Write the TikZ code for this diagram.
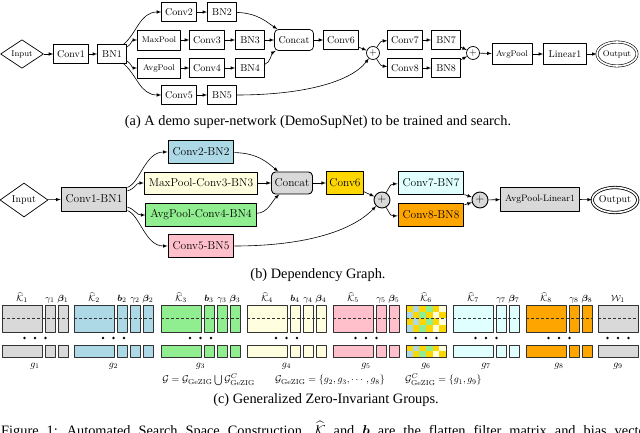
\documentclass[tikz,border=0pt]{standalone}
\usepackage{amsmath, amssymb}
\usepackage{bm}
\usepackage{fontspec}
\newfontfamily\capfont{Liberation Serif}
\usepackage{tikz}
\usetikzlibrary{positioning,shapes.geometric}
\definecolor{depgray}{HTML}{D9D9D9}
\definecolor{depblue}{HTML}{ADD8E6}
\definecolor{depgreen}{HTML}{90EE90}
\definecolor{depcream}{HTML}{FFFFE0}
\definecolor{deppink}{HTML}{FFC0CB}
\definecolor{depgold}{HTML}{FFD700}
\definecolor{depcyan}{HTML}{E0FFFF}
\definecolor{deporange}{HTML}{FFA500}

\begin{document}
\begin{tikzpicture}[>=latex,line join=bevel,
  opbox/.style={draw,line width=0.7bp,inner xsep=3.5bp,inner ysep=0bp,minimum height=19bp,minimum width=29bp,font=\fontsize{10}{12}\selectfont},
  opsmall/.style={opbox,font=\fontsize{8.3}{10}\selectfont},
  depbox/.style={draw,line width=0.9bp,inner xsep=4.5bp,inner ysep=0bp,minimum height=23bp,font=\fontsize{11.5}{13}\selectfont},
  addnode/.style={draw,circle,inner sep=0bp,line width=0.7bp},
  innode/.style={draw,diamond,inner sep=0bp,line width=0.7bp},
  outnode/.style={draw,ellipse,double,double distance=1.6bp,inner sep=0bp,line width=0.6bp},
  catnode/.style={rounded corners=4bp},
  capnode/.style={font=\capfont\fontsize{14.4}{17}\selectfont},
  link/.style={black,->,line width=0.6bp},
  grp/.style={draw=black!80,line width=0.9bp},
  midline/.style={black!80,line width=0.6bp,dash pattern=on 3bp off 2bp},
  labnode/.style={anchor=base,inner sep=0bp,font=\fontsize{9.5}{11}\selectfont},
]
\useasboundingbox (0bp,0bp) rectangle (640bp,433bp);
%% (a) super-network
\node (node_input_a) at (22bp,379bp) [innode,minimum width=43bp,minimum height=28bp,font=\fontsize{8.3}{10}\selectfont] {Input};
  \node (node_conv1) at (71bp,379bp) [opbox] {Conv1};
  \node (node_bn1) at (112bp,379bp) [opbox] {BN1};
  \node (node_conv2) at (179bp,421bp) [opbox] {Conv2};
  \node (node_bn2) at (222bp,421bp) [opbox] {BN2};
  \node (node_maxpool) at (159bp,393bp) [opsmall,minimum width=43bp,minimum height=20bp] {MaxPool};
  \node (node_conv3) at (207bp,393bp) [opbox] {Conv3};
  \node (node_bn3) at (250bp,393bp) [opbox] {BN3};
  \node (node_avgpool) at (159bp,365bp) [opsmall,minimum width=43bp,minimum height=20bp] {AvgPool};
  \node (node_conv4) at (207bp,365bp) [opbox] {Conv4};
  \node (node_bn4) at (250bp,365bp) [opbox] {BN4};
  \node (node_conv5) at (179bp,338bp) [opbox] {Conv5};
  \node (node_bn5) at (222bp,338bp) [opbox] {BN5};
  \node (node_concat) at (294bp,393bp) [opbox,catnode,minimum width=39bp,minimum height=21bp] {Concat};
  \node (node_conv6) at (341bp,393bp) [opbox] {Conv6};
  \node (node_add1) at (373bp,380bp) [addnode,minimum size=13bp] {$+$};
  \node (node_conv7) at (405bp,393bp) [opbox] {Conv7};
  \node (node_bn7) at (446bp,393bp) [opbox] {BN7};
  \node (node_conv8) at (405bp,365bp) [opbox] {Conv8};
  \node (node_bn8) at (446bp,365bp) [opbox] {BN8};
  \node (node_add2) at (473bp,380bp) [addnode,minimum size=13bp] {$+$};
  \node (node_pool) at (512bp,379bp) [opsmall,minimum width=40bp,minimum height=21bp] {AvgPool};
  \node (node_linear1) at (565bp,379bp) [opbox,minimum width=43bp,minimum height=21bp] {Linear1};
  \node (node_output_a) at (617bp,379bp) [outnode,minimum width=38bp,minimum height=24bp,font=\fontsize{8.3}{10}\selectfont] {Output};
  \draw [link] (node_input_a) -- (node_conv1);
  \draw [link] (node_conv1) -- (node_bn1);
  \draw [link] (node_bn1) .. controls (137bp,400bp) and (140bp,421bp) .. (node_conv2);
  \draw [link] (node_bn1) .. controls (131bp,388bp) and (132bp,393bp) .. (node_maxpool);
  \draw [link] (node_bn1) .. controls (131bp,370bp) and (132bp,365bp) .. (node_avgpool);
  \draw [link] (node_bn1) .. controls (137bp,358bp) and (140bp,338bp) .. (node_conv5);
  \draw [link] (node_conv2) -- (node_bn2);
  \draw [link] (node_maxpool) -- (node_conv3);
  \draw [link] (node_conv3) -- (node_bn3);
  \draw [link] (node_avgpool) -- (node_conv4);
  \draw [link] (node_conv4) -- (node_bn4);
  \draw [link] (node_conv5) -- (node_bn5);
  \draw [link] (node_bn2) .. controls (258bp,420bp) and (268bp,410bp) .. (node_concat);
  \draw [link] (node_bn3) -- (node_concat);
  \draw [link] (node_bn4) .. controls (270bp,370bp) and (272bp,380bp) .. (node_concat);
  \draw [link] (node_concat) -- (node_conv6);
  \draw [link] (node_conv6) -- (node_add1);
  \draw [link] (node_bn5) .. controls (300bp,338bp) and (350bp,350bp) .. (node_add1);
  \draw [link] (node_add1) .. controls (381bp,392bp) .. (node_conv7);
  \draw [link] (node_add1) .. controls (381bp,367bp) .. (node_conv8);
  \draw [link] (node_conv7) -- (node_bn7);
  \draw [link] (node_conv8) -- (node_bn8);
  \draw [link] (node_bn7) -- (node_add2);
  \draw [link] (node_bn8) -- (node_add2);
  \draw [link] (node_add2) -- (node_pool);
  \draw [link] (node_pool) -- (node_linear1);
  \draw [link] (node_linear1) -- (node_output_a);
\node (node_cap_a) at (318bp,311bp) [capnode] {(a) A demo super-network (DemoSupNet) to be trained and search.};
%% (b) dependency graph
\node (node_input_b) at (24bp,233bp) [innode,minimum width=48bp,minimum height=34bp,font=\fontsize{10}{12}\selectfont] {Input};
  \node (node_conv1bn1) at (94bp,234bp) [depbox,fill=depgray,minimum height=24bp] {Conv1-BN1};
  \node (node_conv2bn2) at (201bp,281bp) [depbox,fill=depblue] {Conv2-BN2};
  \node (node_conv3bn3) at (201bp,250bp) [depbox,fill=depcream,minimum height=22bp] {MaxPool-Conv3-BN3};
  \node (node_conv4bn4) at (201bp,218bp) [depbox,fill=depgreen] {AvgPool-Conv4-BN4};
  \node (node_conv5bn5) at (201bp,187bp) [depbox,fill=deppink] {Conv5-BN5};
  \node (node_concat_b) at (292bp,250bp) [depbox,catnode,fill=depgray,inner xsep=2.5bp,minimum width=41bp,minimum height=22bp] {Concat};
  \node (node_conv6_b) at (345bp,250bp) [depbox,fill=depgold,inner xsep=3bp] {Conv6};
  \node (node_add1_b) at (382bp,233bp) [addnode,fill=depgray,minimum size=16bp,line width=0.9bp,font=\fontsize{11.5}{13}\selectfont] {$+$};
  \node (node_conv7bn7) at (431bp,250bp) [depbox,fill=depcyan] {Conv7-BN7};
  \node (node_conv8bn8) at (431bp,218bp) [depbox,fill=deporange] {Conv8-BN8};
  \node (node_add2_b) at (480bp,233bp) [addnode,fill=depgray,minimum size=16bp,line width=0.9bp,font=\fontsize{11.5}{13}\selectfont] {$+$};
  \node (node_poollinear1) at (540bp,234bp) [depbox,fill=depgray,minimum height=24bp,font=\fontsize{9.4}{11}\selectfont] {AvgPool-Linear1};
  \node (node_output_b) at (615bp,233bp) [outnode,minimum width=43bp,minimum height=25bp,line width=0.8bp,font=\fontsize{10}{12}\selectfont] {Output};
  \draw [link] (node_input_b) -- (node_conv1bn1);
  \draw [link] (node_conv1bn1) .. controls (140bp,250bp) and (145bp,281bp) .. (node_conv2bn2);
  \draw [link] (node_conv1bn1) .. controls (135bp,244bp) and (136bp,250bp) .. (node_conv3bn3);
  \draw [link] (node_conv1bn1) .. controls (135bp,224bp) and (136bp,218bp) .. (node_conv4bn4);
  \draw [link] (node_conv1bn1) .. controls (140bp,218bp) and (145bp,187bp) .. (node_conv5bn5);
  \draw [link] (node_conv2bn2) .. controls (258bp,280bp) and (268bp,270bp) .. (node_concat_b);
  \draw [link] (node_conv3bn3) -- (node_concat_b);
  \draw [link] (node_conv4bn4) .. controls (268bp,220bp) and (272bp,232bp) .. (node_concat_b);
  \draw [link] (node_concat_b) -- (node_conv6_b);
  \draw [link] (node_conv6_b) -- (node_add1_b);
  \draw [link] (node_conv5bn5) .. controls (300bp,187bp) and (350bp,200bp) .. (node_add1_b);
  \draw [link] (node_add1_b) .. controls (391bp,249bp) .. (node_conv7bn7);
  \draw [link] (node_add1_b) .. controls (391bp,217bp) .. (node_conv8bn8);
  \draw [link] (node_conv7bn7) -- (node_add2_b);
  \draw [link] (node_conv8bn8) -- (node_add2_b);
  \draw [link] (node_add2_b) -- (node_poollinear1);
  \draw [link] (node_poollinear1) -- (node_output_b);
\node (node_cap_b) at (318bp,158bp) [capnode] {(b) Dependency Graph.};
%% (c) zero-invariant groups
\foreach \gx/\gn/\gc in {2/2/depgray,74/3/depblue,161/3/depgreen,247/3/depcream,333/2/deppink,453/2/depcyan,526/2/deporange} {
  \draw [grp,fill=\gc] (\gx bp,101bp) rectangle +(40bp,27bp);
  \draw [grp,fill=\gc] (\gx bp,76bp) rectangle +(40bp,12bp);
  \foreach \s in {1,...,\gn} {
    \draw [grp,fill=\gc] ({\gx bp+30bp+\s*13bp},101bp) rectangle +(10bp,27bp);
    \draw [grp,fill=\gc] ({\gx bp+30bp+\s*13bp},76bp) rectangle +(10bp,12bp);
  }
  \draw [midline] (\gx bp,114.5bp) -- +({40bp+\gn*13bp},0bp);
}
  \draw [grp,fill=depgray] (598bp,101bp) rectangle +(40bp,27bp);
  \draw [grp,fill=depgray] (598bp,76bp) rectangle +(40bp,12bp);
  \draw [midline] (598bp,114.5bp) -- +(40bp,0bp);
  \fill [depgold] (406bp,101bp) rectangle +(40bp,27bp);
  \fill [depgold] (406bp,76bp) rectangle +(40bp,12bp);
\foreach \i/\cc in {0/depblue,1/depblue,2/depgreen,3/depgreen,4/depcream,5/depcream} {
  \foreach \j in {0,...,3} {
    \pgfmathtruncatemacro\cellpar{mod(\i+\j,2)}
    \ifnum\cellpar=0 \fill [\cc] ({406bp+\i*6.667bp},{101bp+\j*6.75bp}) rectangle +(6.667bp,6.75bp); \fi
  }
  \foreach \j in {0,1} {
    \pgfmathtruncatemacro\cellpar{mod(\i+\j,2)}
    \ifnum\cellpar=0 \fill [\cc] ({406bp+\i*6.667bp},{76bp+\j*6bp}) rectangle +(6.667bp,6bp); \fi
  }
}
  \draw [grp] (406bp,101bp) rectangle +(40bp,27bp);
  \draw [grp] (406bp,76bp) rectangle +(40bp,12bp);
  \draw [midline] (406bp,114.5bp) -- +(40bp,0bp);
\foreach \lx/\lt in {22/\widehat{\mathcal{K}}_1,50/\gamma_1,63/\bm{\beta}_1,
    94/\widehat{\mathcal{K}}_2,122/\bm{b}_2,135/\gamma_2,148/\bm{\beta}_2,
    181/\widehat{\mathcal{K}}_3,209/\bm{b}_3,222/\gamma_3,235/\bm{\beta}_3,
    267/\widehat{\mathcal{K}}_4,295/\bm{b}_4,308/\gamma_4,321/\bm{\beta}_4,
    353/\widehat{\mathcal{K}}_5,381/\gamma_5,394/\bm{\beta}_5,
    426/\widehat{\mathcal{K}}_6,
    473/\widehat{\mathcal{K}}_7,501/\gamma_7,514/\bm{\beta}_7,
    546/\widehat{\mathcal{K}}_8,574/\gamma_8,587/\bm{\beta}_8,
    618/\mathcal{W}_1}
  \node (node_lab\lx) at (\lx bp,131.5bp) [labnode] {$\lt$};
\foreach \cx/\k in {35/1,113.5/2,200.5/3,286.5/4,366/5,426/6,486/7,559/8,618/9} {
  \foreach \d in {-10.5,0,10.5}
    \fill (\cx bp,95bp) ++(\d bp,0bp) circle (1.3bp);
  \node (node_g\k) at (\cx bp,67bp) [font=\fontsize{10}{12}\selectfont] {$g_{\k}$};
}
\node (node_groups) at (322bp,53bp) [font=\fontsize{10.2}{12}\selectfont] {$\mathcal{G}=\mathcal{G}_{\text{GeZIG}}\bigcup\mathcal{G}^{C}_{\text{GeZIG}}$\qquad$\mathcal{G}_{\text{GeZIG}}=\{g_2,g_3,\cdots,g_8\}$\qquad$\mathcal{G}^{C}_{\text{GeZIG}}=\{g_1,g_9\}$};
\node (node_cap_c) at (326bp,33bp) [capnode] {(c) Generalized Zero-Invariant Groups.};
\node (node_figcap) at (1bp,-2bp) [capnode,anchor=base west,inner sep=0bp] {\spaceskip=8bp\xspaceskip=9bp Figure 1: Automated Search Space Construction. $\widehat{\mathcal{K}}$ and $\bm{b}$ are the flatten filter matrix and bias vector};
%
\end{tikzpicture}
\end{document}
